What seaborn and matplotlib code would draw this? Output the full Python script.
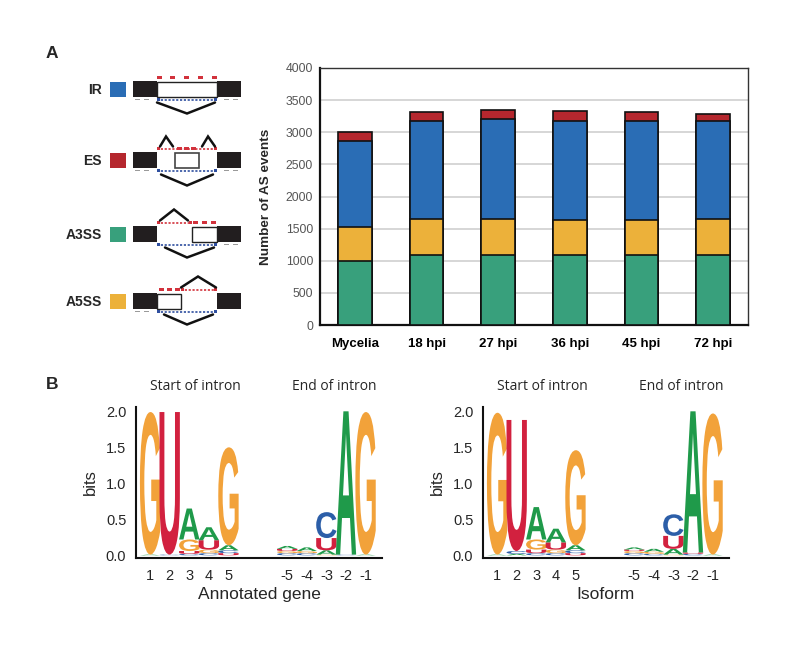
import matplotlib
matplotlib.use("Agg")
import numpy as np
import pandas as pd
import matplotlib.pyplot as plt
import seaborn as sns
from matplotlib.textpath import TextPath
from matplotlib.font_manager import FontProperties
from matplotlib.patches import PathPatch, Rectangle
from matplotlib.transforms import Affine2D

# ---------------- data ----------------
categories = ["Mycelia", "18 hpi", "27 hpi", "36 hpi", "45 hpi", "72 hpi"]
a3ss_counts = [1000, 1090, 1090, 1090, 1090, 1090]
a5ss_counts = [520, 560, 560, 540, 540, 560]
ir_counts = [1340, 1520, 1550, 1550, 1540, 1520]
es_counts = [140, 140, 140, 145, 140, 120]
y_ticks_bar = [0, 500, 1000, 1500, 2000, 2500, 3000, 3500, 4000]

event_types = ["IR", "ES", "A3SS", "A5SS"]

logo_positions = ["1", "2", "3", "4", "5", "-5", "-4", "-3", "-2", "-1"]
logo_x_index = [1, 2, 3, 4, 5, 8, 9, 10, 11, 12]
# letter stacks (bottom -> top): (letter, bits)
logo_annotated = [
    [("A", 0.01), ("G", 1.98)],
    [("C", 0.01), ("U", 1.98)],
    [("C", 0.02), ("U", 0.04), ("G", 0.16), ("A", 0.43)],
    [("C", 0.03), ("G", 0.05), ("U", 0.13), ("A", 0.18)],
    [("U", 0.03), ("C", 0.04), ("A", 0.07), ("G", 1.36)],
    [("C", 0.03), ("G", 0.03), ("U", 0.03), ("A", 0.04)],
    [("C", 0.03), ("G", 0.03), ("A", 0.05)],
    [("G", 0.01), ("A", 0.06), ("U", 0.17), ("C", 0.36)],
    [("C", 0.01), ("A", 1.99)],
    [("A", 0.01), ("G", 1.98)],
]
logo_isoform = [
    [("A", 0.01), ("G", 1.97)],
    [("A", 0.02), ("C", 0.04), ("U", 1.82)],
    [("C", 0.03), ("U", 0.05), ("G", 0.14), ("A", 0.45)],
    [("C", 0.03), ("G", 0.05), ("U", 0.10), ("A", 0.19)],
    [("U", 0.03), ("C", 0.04), ("A", 0.07), ("G", 1.32)],
    [("C", 0.03), ("G", 0.03), ("U", 0.02), ("A", 0.03)],
    [("C", 0.02), ("G", 0.03), ("A", 0.04)],
    [("G", 0.01), ("A", 0.08), ("U", 0.18), ("C", 0.30)],
    [("C", 0.02), ("U", 0.02), ("A", 1.96)],
    [("A", 0.01), ("G", 1.96)],
]
bits_ticks = [0.0, 0.5, 1.0, 1.5, 2.0]

# ---------------- style ----------------
sns.set_theme(style="white")
plt.rcParams["font.family"] = ["Liberation Sans", "DejaVu Sans"]

C_IR = "#2a6db5"
C_ES = "#b5272e"
C_A3 = "#38a07c"
C_A5 = "#ecb13a"
type_colors = {"IR": C_IR, "ES": C_ES, "A3SS": C_A3, "A5SS": C_A5}
letter_colors = {"G": "#f2a23a", "U": "#d2213f", "A": "#1f9a4a", "C": "#2c5ea8"}

W, H = 800, 663
fig = plt.figure(figsize=(W / 100, H / 100), dpi=100)

# ---------------- schematic (panel A left) ----------------
sch = fig.add_axes([0, 0, 1, 1])
sch.set_xlim(0, W)
sch.set_ylim(H, 0)
sch.axis("off")

fig.text(52 / W, 1 - 53 / H, "A", fontsize=12.5, fontweight="bold", ha="center", va="center")
fig.text(52 / W, 1 - 384 / H, "B", fontsize=12.5, fontweight="bold", ha="center", va="center")

row_y = {"IR": 89, "ES": 160, "A3SS": 234, "A5SS": 301}
EX_H = 16
red = "#d2323c"
blue = "#2f4fa0"
gray = "#9a9a9a"


def rect(x0, x1, cy, h, fc, ec="none", lw=0.0, z=2):
    sch.add_patch(Rectangle((x0, cy - h / 2), x1 - x0, h, fc=fc, ec=ec, lw=lw, zorder=z))


def dashes(xs, y, color, w=5, h=2.6):
    for x in xs:
        rect(x - w / 2, x + w / 2, y, h, color, z=3)


def dotted(x0, x1, y, color):
    sch.plot([x0, x1], [y, y], color=color, lw=1.2, ls=(0, (1.3, 1.0)), zorder=3)
    dashes([x0 + 1.5, x1 - 1.5], y, color, w=3.5, h=2.6)


def chevron(pts):
    xs, ys = zip(*pts)
    sch.plot(xs, ys, color="#111111", lw=1.8, solid_joinstyle="miter", zorder=3)


for t in event_types:
    cy = row_y[t]
    sch.text(102, cy + 1, t, fontsize=10, fontweight="bold", ha="right", va="center")
    rect(110, 126, cy, 15, type_colors[t])
    rect(133, 157, cy, EX_H, "#221e1f")
    rect(217, 241, cy, EX_H, "#221e1f")
    top = cy - EX_H / 2 - 3.5
    bot = cy + EX_H / 2 + 2.5
    if t == "IR":
        rect(157, 217, cy, EX_H - 1, "white", ec="#222222", lw=1.0)
        dashes([159, 172, 186, 200, 214], top, red)
        dashes([137, 146], bot, gray, h=1.8)
        dashes([226, 235], bot, gray, h=1.8)
        dotted(157, 217, bot, blue)
        chevron([(157, bot + 3), (187, bot + 14), (215, bot + 3)])
    elif t == "ES":
        rect(175, 199, cy, EX_H - 1, "white", ec="#444444", lw=1.2)
        dotted(157, 217, top, red)
        dashes([179, 186, 193], top, red)
        chevron([(160, top - 2), (166, top - 12), (173, top - 2)])
        chevron([(202, top - 2), (208, top - 12), (215, top - 2)])
        dashes([137, 146], bot, gray, h=1.8)
        dashes([226, 235], bot, gray, h=1.8)
        dotted(157, 217, bot, blue)
        chevron([(161, bot + 4), (187, bot + 15), (213, bot + 4)])
    elif t == "A3SS":
        rect(192, 217, cy, EX_H - 1, "white", ec="#222222", lw=1.0)
        dotted(157, 192, top, red)
        dashes([195, 204, 213], top, red)
        chevron([(160, top - 2), (174, top - 13), (188, top - 2)])
        dashes([226, 235], bot, gray, h=1.8)
        dotted(157, 217, bot, blue)
        chevron([(165, bot + 3), (187, bot + 13), (214, bot + 3)])
    else:
        rect(157, 181, cy, EX_H - 1, "white", ec="#222222", lw=1.0)
        dashes([161, 169, 177], top, red)
        dotted(181, 217, top, red)
        chevron([(181, top - 2), (198, top - 13), (216, top - 2)])
        dashes([137, 146], bot, gray, h=1.8)
        dotted(157, 217, bot, blue)
        chevron([(164, bot + 3), (187, bot + 13), (213, bot + 3)])

# ---------------- stacked bar chart ----------------
ax = fig.add_axes([320 / W, 1 - 325 / H, 428 / W, 257 / H])
df = pd.DataFrame({
    "sample": categories,
    "A3SS": a3ss_counts,
    "A5SS": a5ss_counts,
    "IR": ir_counts,
    "ES": es_counts,
})
df["cum_A3SS"] = df["A3SS"]
df["cum_A5SS"] = df["cum_A3SS"] + df["A5SS"]
df["cum_IR"] = df["cum_A5SS"] + df["IR"]
df["cum_ES"] = df["cum_IR"] + df["ES"]

for col, colr in [("cum_ES", C_ES), ("cum_IR", C_IR), ("cum_A5SS", C_A5), ("cum_A3SS", C_A3)]:
    sns.barplot(data=df, x="sample", y=col, color=colr, saturation=1, width=0.47,
                edgecolor="#111111", linewidth=1.2, errorbar=None, ax=ax, zorder=3)

ax.set_xlim(-0.49, 5.49)
ax.set_ylim(0, 4000)
ax.set_yticks(y_ticks_bar)
ax.set_yticklabels([str(v) for v in y_ticks_bar], color="#555555", fontsize=8.8)
ax.set_xticks(range(len(categories)))
ax.set_xticklabels(categories, fontsize=9.5, fontweight="bold", color="black")
ax.tick_params(axis="both", length=0)
ax.tick_params(axis="y", pad=5)
ax.tick_params(axis="x", pad=9)
ax.set_xlabel("")
ax.set_ylabel("Number of AS events", fontsize=9.7, fontweight="bold", labelpad=10)
ax.yaxis.grid(True, color="#cfcfcf", lw=1.2, zorder=0)
ax.set_axisbelow(True)
for s in ["left", "bottom"]:
    ax.spines[s].set_color("#111111")
    ax.spines[s].set_linewidth(1.6)
for s in ["top", "right"]:
    ax.spines[s].set_color("#333333")
    ax.spines[s].set_linewidth(1.0)

# ---------------- sequence logos ----------------
letter_font = FontProperties(family="Liberation Sans", weight="bold")


def draw_letter(axl, letter, x, bottom, height, width, color):
    tp = TextPath((0, 0), letter, size=1, prop=letter_font)
    bb = tp.get_extents()
    tr = (Affine2D().translate(-bb.x0, -bb.y0)
          .scale(width / bb.width, height / bb.height)
          .translate(x - width / 2, bottom))
    axl.add_patch(PathPatch(tr.transform_path(tp), fc=color, ec="none", lw=0))


def draw_logo(axl, stacks, xlabel):
    for xi, stack in zip(logo_x_index, stacks):
        b = 0.0
        for letter, h in stack:
            draw_letter(axl, letter, xi, b, h, 1.04, letter_colors[letter])
            b += h
    axl.set_xlim(0.28, 12.84)
    axl.set_ylim(-0.03, 2.06)
    axl.set_xticks(logo_x_index)
    axl.set_xticklabels(logo_positions, fontsize=10.5)
    axl.set_yticks(bits_ticks)
    axl.set_yticklabels([f"{v:.1f}" for v in bits_ticks], fontsize=10.5)
    axl.tick_params(axis="both", length=0)
    axl.tick_params(axis="y", pad=7)
    axl.tick_params(axis="x", pad=8)
    axl.set_ylabel("bits", fontsize=12, labelpad=6)
    axl.set_xlabel(xlabel, fontsize=12.5, labelpad=3)
    axl.spines["top"].set_visible(False)
    axl.spines["right"].set_visible(False)
    for s in ["left", "bottom"]:
        axl.spines[s].set_color("#111111")
        axl.spines[s].set_linewidth(1.5)
    axl.set_facecolor("none")
    axl.text(3.3, 2.34, "Start of intron", fontsize=10, ha="center", va="center",
             family=["Open Sans", "DejaVu Sans"])
    axl.text(10.4, 2.34, "End of intron", fontsize=10, ha="center", va="center",
             family=["Open Sans", "DejaVu Sans"])


axL = fig.add_axes([136 / W, 1 - 557.5 / H, 246 / W, 150.5 / H])
draw_logo(axL, logo_annotated, "Annotated gene")
axR = fig.add_axes([483 / W, 1 - 557.5 / H, 246 / W, 150.5 / H])
draw_logo(axR, logo_isoform, "Isoform")

fig.savefig("out.png", dpi=100, facecolor="white")
